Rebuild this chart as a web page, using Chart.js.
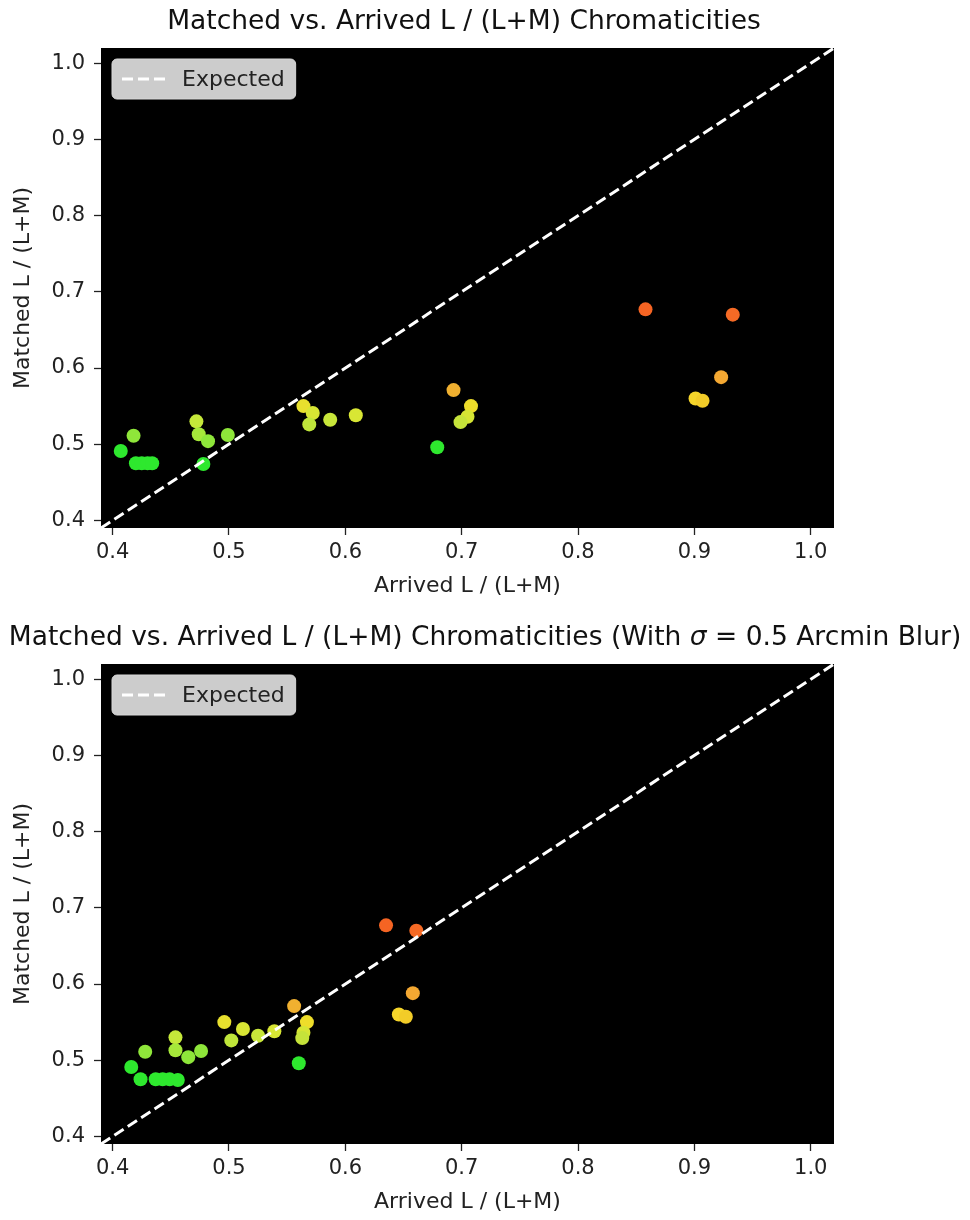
<!DOCTYPE html>
<html>
<head>
<meta charset="utf-8">
<script src="https://cdn.jsdelivr.net/npm/chart.js@4.4.1/dist/chart.umd.min.js"></script>
<style>
  body { margin: 0; background: #fff; overflow: hidden; width: 970px; height: 1220px; position: relative; }
  canvas { position: absolute; left: 0; }
</style>
</head>
<body>
<canvas id="plainChart" width="970" height="610" style="top:0"></canvas>
<canvas id="blurChart" width="970" height="610" style="top:616px"></canvas>
<script>
// matched L/(L+M) per stimulus (same in both panels)
const matched = [0.491, 0.511, 0.475, 0.475, 0.475, 0.475, 0.474, 0.530, 0.513, 0.504, 0.512,
  0.550, 0.541, 0.526, 0.532, 0.538, 0.571, 0.550, 0.536, 0.529, 0.496,
  0.560, 0.557, 0.588, 0.677, 0.670];
// arrived L/(L+M), no blur
const arrived = [0.407, 0.418, 0.420, 0.425, 0.430, 0.434, 0.478, 0.472, 0.474, 0.482, 0.499,
  0.564, 0.572, 0.569, 0.587, 0.609, 0.693, 0.708, 0.705, 0.699, 0.679,
  0.901, 0.907, 0.923, 0.858, 0.933];
// arrived L/(L+M), with 0.5 arcmin blur
const arrivedBlur = [0.416, 0.428, 0.424, 0.437, 0.443, 0.449, 0.456, 0.454, 0.454, 0.465, 0.476,
  0.496, 0.512, 0.502, 0.525, 0.539, 0.556, 0.567, 0.564, 0.563, 0.560,
  0.646, 0.652, 0.658, 0.635, 0.661];
const dotColors = ['#2ee82e', '#8fe63a', '#2ee82e', '#2ee82e', '#2ee82e', '#2ee82e', '#2ee82e', '#c5e83a', '#a6e83a', '#8ee63a', '#8ee63a',
  '#e8e02e', '#d8e634', '#bfe63a', '#c8e63a', '#d8e634', '#f0b030', '#eedd2a', '#d5e534', '#c5e33a', '#2ee82e',
  '#f5d52a', '#f2cc28', '#f4a832', '#f56423', '#f56a25'];
const expectedLine = [0.39, 1.02];
const axisTicks = [0.4, 0.5, 0.6, 0.7, 0.8, 0.9, 1.0];

const FONT = "'DejaVu Sans', sans-serif";

// black plot area like the matplotlib style
const plotBg = {
  id: 'plotBg',
  beforeDraw(chart) {
    const { ctx, chartArea: a } = chart;
    ctx.save();
    ctx.fillStyle = '#000';
    ctx.fillRect(a.left, a.top, a.right - a.left, a.bottom - a.top);
    ctx.restore();
  }
};

// title made of pieces so sigma can be italic
const mplTitle = {
  id: 'mplTitle',
  afterDraw(chart, args, opts) {
    const ctx = chart.ctx;
    ctx.save();
    ctx.textBaseline = 'middle';
    ctx.fillStyle = '#111';
    let total = 0;
    opts.parts.forEach(p => {
      ctx.font = (p.italic ? 'italic ' : '') + '26.5px ' + FONT;
      total += ctx.measureText(p.text).width;
    });
    let x = opts.cx - total / 2;
    opts.parts.forEach(p => {
      ctx.font = (p.italic ? 'italic ' : '') + '26.5px ' + FONT;
      ctx.fillText(p.text, x, 22);
      x += ctx.measureText(p.text).width;
    });
    ctx.restore();
  }
};

// legend box inside the axes, top left
const mplLegend = {
  id: 'mplLegend',
  afterDatasetsDraw(chart) {
    const { ctx, chartArea: a } = chart;
    const ds = chart.data.datasets[0];
    const x = a.left + 11, y = a.top + 11, h = 40;
    ctx.save();
    ctx.font = '22px ' + FONT;
    const w = 10 + 44 + 16 + ctx.measureText(ds.label).width + 11;
    ctx.beginPath();
    ctx.roundRect(x, y, w, h, 5);
    ctx.fillStyle = 'rgba(255,255,255,0.8)';
    ctx.fill();
    ctx.strokeStyle = '#d8d8d8';
    ctx.lineWidth = 1;
    ctx.stroke();
    ctx.beginPath();
    ctx.setLineDash(ds.borderDash);
    ctx.strokeStyle = ds.borderColor;
    ctx.lineWidth = ds.borderWidth;
    ctx.moveTo(x + 10, y + h / 2);
    ctx.lineTo(x + 54, y + h / 2);
    ctx.stroke();
    ctx.setLineDash([]);
    ctx.fillStyle = '#222';
    ctx.textBaseline = 'middle';
    ctx.fillText(ds.label, x + 70, y + h / 2 + 1);
    ctx.restore();
  }
};

function axis(label, isX) {
  return {
    type: 'linear',
    min: expectedLine[0],
    max: expectedLine[1],
    afterBuildTicks: s => { s.ticks = axisTicks.map(v => ({ value: v })); },
    afterFit: s => { if (isX) s.height = 82; else s.width = 101; },
    grid: { drawOnChartArea: false, drawTicks: true, tickLength: 7, tickColor: '#222', tickWidth: 1.3 },
    border: { display: false },
    ticks: {
      color: '#222', padding: isX ? 5 : 9, autoSkip: false, maxRotation: 0,
      font: { family: FONT, size: 21 },
      callback: v => v.toFixed(1)
    },
    title: {
      display: true, text: label, color: '#222',
      font: { family: FONT, size: 22 },
      padding: isX ? { top: 0, bottom: 11 } : { top: 10, bottom: 0 }
    }
  };
}

function makeChart(id, xs, titleParts, titleX) {
  return new Chart(document.getElementById(id), {
    type: 'scatter',
    data: {
      datasets: [{
        label: 'Expected',
        data: expectedLine.map(v => ({ x: v, y: v })),
        showLine: true,
        borderColor: '#ffffff',
        borderWidth: 3,
        borderDash: [11, 5],
        pointRadius: 0
      }, {
        label: 'Stimuli',
        data: xs.map((x, i) => ({ x: x, y: matched[i] })),
        pointBackgroundColor: dotColors,
        pointBorderWidth: 0,
        pointRadius: 7
      }]
    },
    options: {
      responsive: false,
      animation: false,
      events: [],
      layout: { padding: { left: 0, right: 136, top: 48, bottom: 0 } },
      scales: {
        x: axis('Arrived L / (L+M)', true),
        y: axis('Matched L / (L+M)', false)
      },
      plugins: {
        legend: { display: false },
        tooltip: { enabled: false },
        mplTitle: { parts: titleParts, cx: titleX }
      }
    },
    plugins: [plotBg, mplTitle, mplLegend]
  });
}

makeChart('plainChart', arrived,
  [{ text: 'Matched vs. Arrived L / (L+M) Chromaticities' }], 464);
makeChart('blurChart', arrivedBlur,
  [{ text: 'Matched vs. Arrived L / (L+M) Chromaticities (With ' },
   { text: 'σ', italic: true },
   { text: ' = 0.5 Arcmin Blur)' }], 485);
</script>
</body>
</html>
